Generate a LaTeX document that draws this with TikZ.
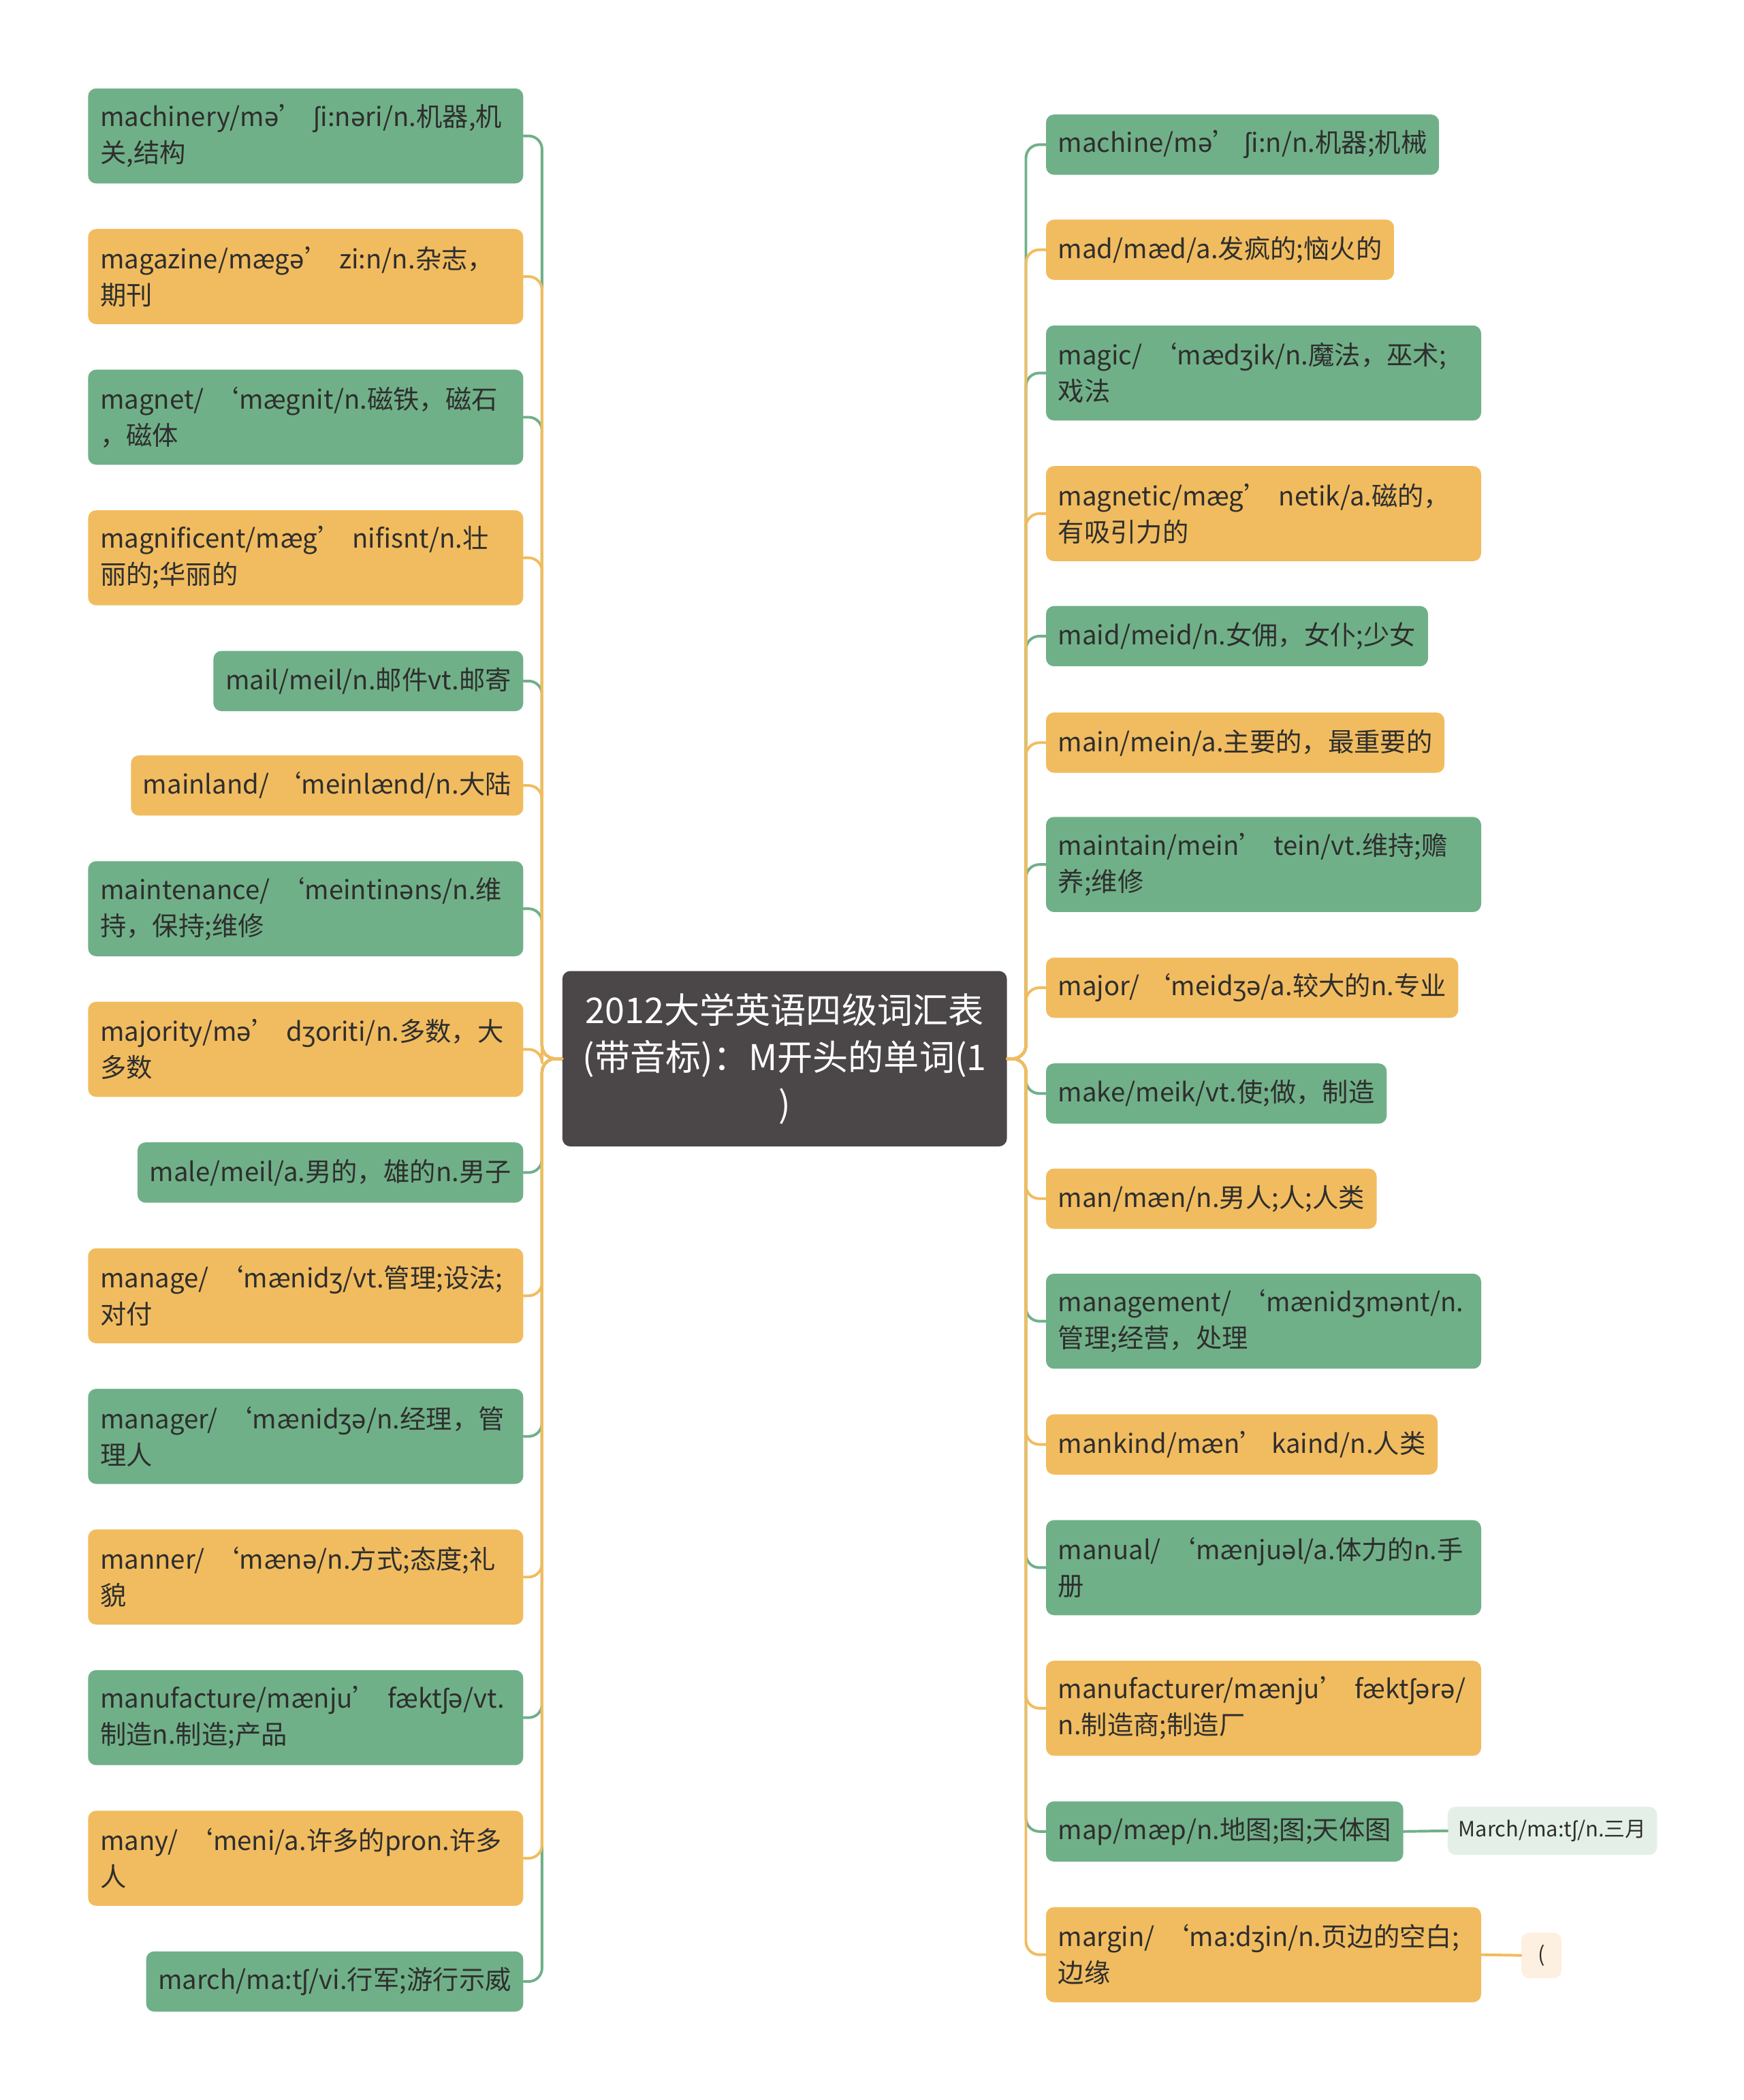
\documentclass[tikz,border=0pt]{standalone}
\usepackage{fontspec}
\setmainfont{Noto Sans CJK SC}
\newfontfamily\ipafont{Noto Sans}
% the CJK font lacks ə, ʃ and ʒ
\newcommand\ipa[1]{{\ipafont #1}}
\hyphenpenalty=10000

\definecolor{leafgreen}{HTML}{70B088}
\definecolor{leaforange}{HTML}{F1BC5F}
\definecolor{rootgray}{HTML}{4B4647}
\definecolor{inkdark}{HTML}{2E2E2E}
\definecolor{subgreen}{HTML}{E4F0E7}
\definecolor{suborange}{HTML}{FDF0E0}

\tikzset{
    leaf/.style={rounded corners=6pt, inner xsep=9pt, inner ysep=0pt, minimum height=45pt,
        text=inkdark, font=\fontsize{19.5}{27}\selectfont, align=left},
    wide/.style={text width=307pt, minimum height=71pt},
    gleaf/.style={leaf, fill=leafgreen},
    oleaf/.style={leaf, fill=leaforange},
    glink/.style={draw=leafgreen, line width=2pt, rounded corners=10pt},
    olink/.style={draw=leaforange, line width=2pt, rounded corners=10pt},
}

\begin{document}
\begin{tikzpicture}[x=1pt, y=-1pt, line cap=round, line join=round]

                \useasboundingbox[fill=white] (0,0) rectangle (1302,1568);

                \node[fill=rootgray, text=white, rounded corners=6pt, minimum height=131pt,
                    text width=316pt, inner xsep=8pt, align=center,
                    font=\fontsize{26.5}{35}\selectfont] (root) at (586,790.5)
                    {2012大学英语四级词汇表\\(带音标)：M开头的单词(1\\)};

                % left side
                \node[gleaf, wide, anchor=east] (machinery) at (391,101.5) {machinery/m\ipa{ə}’~\ipa{ʃ}i:n\ipa{ə}ri/n.机器,机\\关,结构};
                \node[oleaf, wide, anchor=east] (magazine) at (391,206.5) {magazine/mæg\ipa{ə}’~zi:n/n.杂志，\\期刊};
                \node[gleaf, wide, anchor=east] (magnet) at (391,311.5) {magnet/~‘mægnit/n.磁铁，磁石\\，磁体};
                \node[oleaf, wide, anchor=east] (magnificent) at (391,416.5) {magnificent/mæg’~nifisnt/n.壮\\丽的;华丽的};
                \node[gleaf, anchor=east] (mail) at (391,508.5) {mail/meil/n.邮件vt.邮寄};
                \node[oleaf, anchor=east] (mainland) at (391,586.5) {mainland/ ‘meinlænd/n.大陆};
                \node[gleaf, wide, anchor=east] (maintenance) at (391,678.5) {maintenance/~‘meintin\ipa{ə}ns/n.维\\持，保持;维修};
                \node[oleaf, wide, anchor=east] (majority) at (391,783.5) {majority/m\ipa{ə}’~d\ipa{ʒ}oriti/n.多数，大\\多数};
                \node[gleaf, anchor=east] (male) at (391,875.5) {male/meil/a.男的，雄的n.男子};
                \node[oleaf, wide, anchor=east] (manage) at (391,967.5) {manage/~‘mænid\ipa{ʒ}/vt.管理;设法;\\对付};
                \node[gleaf, wide, anchor=east] (manager) at (391,1072.5) {manager/~‘mænid\ipa{ʒə}/n.经理，管\\理人};
                \node[oleaf, wide, anchor=east] (manner) at (391,1177.5) {manner/~‘mæn\ipa{ə}/n.方式;态度;礼\\貌};
                \node[gleaf, wide, anchor=east] (manufacture) at (391,1282.5) {manufacture/mænju’~fækt\ipa{ʃə}/vt.\\制造n.制造;产品};
                \node[oleaf, wide, anchor=east] (many) at (391,1387.5) {many/~‘meni/a.许多的pron.许多\\人};
                \node[gleaf, anchor=east] (march) at (391,1479.5) {march/ma:t\ipa{ʃ}/vi.行军;游行示威};

                % right side
                \node[gleaf, anchor=west] (machine) at (781,108) {machine/m\ipa{ə}’ \ipa{ʃ}i:n/n.机器;机械};
                \node[oleaf, anchor=west] (mad) at (781,186.5) {mad/mæd/a.发疯的;恼火的};
                \node[gleaf, wide, anchor=west] (magic) at (781,278.5) {magic/~‘mæd\ipa{ʒ}ik/n.魔法，巫术;\\戏法};
                \node[oleaf, wide, anchor=west] (magnetic) at (781,383.5) {magnetic/mæg’~netik/a.磁的，\\有吸引力的};
                \node[gleaf, anchor=west] (maid) at (781,475) {maid/meid/n.女佣，女仆;少女};
                \node[oleaf, anchor=west] (main) at (781,554.5) {main/mein/a.主要的，最重要的};
                \node[gleaf, wide, anchor=west] (maintain) at (781,645.5) {maintain/mein’~tein/vt.维持;赡\\养;维修};
                \node[oleaf, anchor=west] (major) at (781,737.5) {major/ ‘meid\ipa{ʒə}/a.较大的n.专业};
                \node[gleaf, anchor=west] (make) at (781,816.5) {make/meik/vt.使;做，制造};
                \node[oleaf, anchor=west] (man) at (781,895) {man/mæn/n.男人;人;人类};
                \node[gleaf, wide, anchor=west] (management) at (781,986.5) {management/~‘mænid\ipa{ʒ}m\ipa{ə}nt/n.\\管理;经营，处理};
                \node[oleaf, anchor=west] (mankind) at (781,1078.5) {mankind/mæn’ kaind/n.人类};
                \node[gleaf, wide, anchor=west] (manual) at (781,1170.5) {manual/~‘mænju\ipa{ə}l/a.体力的n.手\\册};
                \node[oleaf, wide, anchor=west] (manufacturer) at (781,1275.5) {manufacturer/mænju’~fækt\ipa{ʃə}r\ipa{ə}/\\n.制造商;制造厂};
                \node[gleaf, anchor=west] (map) at (781,1367.5) {map/mæp/n.地图;图;天体图};
                \node[oleaf, wide, anchor=west] (margin) at (781,1459.5) {margin/~‘ma:d\ipa{ʒ}in/n.页边的空白;\\边缘};

                \node[leaf, fill=subgreen, inner xsep=8pt, minimum height=36pt,
                    font=\fontsize{15.7}{20}\selectfont, anchor=west] (March) at (1081,1367) {March/ma:t\ipa{ʃ}/n.三月};
                \node[leaf, fill=suborange, inner xsep=8pt, minimum width=30pt, minimum height=34pt,
                    font=\fontsize{15.7}{20}\selectfont, anchor=west] (paren) at (1136,1460) {(};

                % links
                \foreach \n in {machinery,magnet,mail,maintenance,male,manager,manufacture,march}
                    \draw[glink] (root.west) -- ++(-15,0) |- (\n.east);
                \foreach \n in {magazine,magnificent,mainland,majority,manage,manner,many}
                    \draw[olink] (root.west) -- ++(-15,0) |- (\n.east);
                \foreach \n in {machine,magic,maid,maintain,make,management,manual,map}
                    \draw[glink] (root.east) -- ++(14,0) |- (\n.west);
                \foreach \n in {mad,magnetic,main,major,man,mankind,manufacturer,margin}
                    \draw[olink] (root.east) -- ++(14,0) |- (\n.west);

                \draw[glink] (map.east) -- (March.west);
                \draw[olink] (margin.east) -- (paren.west);

\end{tikzpicture}
\end{document}
